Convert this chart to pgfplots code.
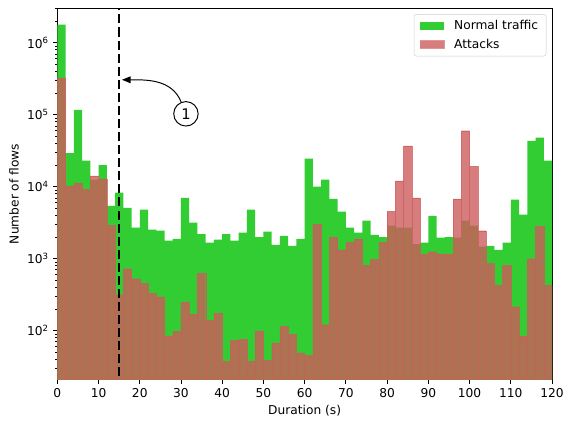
\documentclass[border=0pt]{standalone}
\usepackage{fontspec}
\setmainfont{DejaVu Sans}
\usepackage{pgfplots}
\pgfplotsset{compat=1.18}
\usetikzlibrary{arrows.meta}
\definecolor{normalc}{HTML}{32CD32}
\definecolor{attackc}{HTML}{CD5C5C}

\begin{document}
\begin{tikzpicture}
\begin{axis}[
  scale only axis, width=404.8pt, height=303.6pt,
  ymode=log, xmin=0, xmax=120, ymin=21, ymax=3.0e6,
  enlargelimits=false,
  axis line style={line width=0.8pt},
  tick align=outside, xtick pos=left, ytick pos=left,
  major tick length=3.5pt, minor tick length=2pt,
  every tick/.style={black, line width=0.8pt},
  every minor tick/.style={black, line width=0.6pt},
  xtick={0,10,20,30,40,50,60,70,80,90,100,110,120},
  ytick={100,1000,10000,100000,1000000},
  yticklabels={10\textsuperscript{2},10\textsuperscript{3},10\textsuperscript{4},10\textsuperscript{5},10\textsuperscript{6}},
  minor ytick={30,40,50,60,70,80,90,200,300,400,500,600,700,800,900,2000,3000,4000,5000,6000,7000,8000,9000,20000,30000,40000,50000,60000,70000,80000,90000,200000,300000,400000,500000,600000,700000,800000,900000,2000000,3000000},
  xlabel={Duration (s)}, ylabel={Number of flows},
  tick label style={font=\fontsize{10}{12}\selectfont},
  label style={font=\fontsize{10}{12}\selectfont},
  /pgf/number format/assume math mode=true,
  legend style={at={(1,1)}, anchor=north east, xshift=-4.7pt, yshift=-4.7pt,
    draw=black!20, rounded corners=2pt, fill=white, fill opacity=0.8, text opacity=1,
    font=\fontsize{10}{12}\selectfont, inner xsep=4.5pt, inner ysep=3pt, row sep=2pt,
    /tikz/every odd column/.append style={column sep=6pt}},
  legend cell align=left,
]
\addplot[ybar interval, fill=normalc, draw=none,
  legend image code/.code={\fill[sharp corners, fill opacity=1, normalc] (0pt,-3.2pt) rectangle (20pt,3.2pt);}] coordinates {
(0,1780000) (2,29400) (4,117000) (6,23000) (8,12500) (10,20000) (12,5400) (14,8300) (16,5100) (18,2700)
(20,4800) (22,2530) (24,2450) (26,1780) (28,1880) (30,7000) (32,3160) (34,2200) (36,1670) (38,1840)
(40,2200) (42,1780) (44,2300) (46,4800) (48,2000) (50,2370) (52,1560) (54,2080) (56,1510) (58,1880)
(60,24500) (62,10000) (64,12500) (66,6800) (68,4500) (70,2700) (72,2300) (74,3370) (76,2150) (78,2000)
(80,2870) (82,2700) (84,2700) (86,1600) (88,1670) (90,3950) (92,1960) (94,2000) (96,1960) (98,3370)
(100,2870) (102,1470) (104,1510) (106,1330) (108,1670) (110,6600) (112,4100) (114,43500) (116,48000) (118,23000)
(120,23000)};
\addlegendentry{Normal traffic}
\addplot[ybar interval, fill=attackc, fill opacity=0.8, draw=attackc, draw opacity=0.8, line width=0.3pt,
  legend image code/.code={\fill[sharp corners, fill opacity=1, attackc!80!white] (0pt,-3.2pt) rectangle (20pt,3.2pt);}] coordinates {
(0,324000) (2,10300) (4,11200) (6,9100) (8,14200) (10,12900) (12,2900) (14,316) (16,726) (18,527)
(20,450) (22,327) (24,294) (26,85) (28,98) (30,245) (32,167) (34,620) (36,138) (38,174)
(40,37.5) (42,73) (44,75) (46,37.5) (48,98) (50,38.7) (52,67) (54,114) (56,88) (58,49)
(60,45) (62,2970) (64,121) (66,2000) (68,1330) (70,1670) (72,1880) (74,800) (76,970) (78,1670)
(80,4500) (82,12100) (84,37000) (86,7000) (88,1140) (90,1250) (92,1170) (94,1140) (96,6800) (98,60000)
(100,19000) (102,2450) (104,853) (106,422) (108,800) (110,215) (112,85) (114,1000) (116,2800) (118,426)
(120,426)};
\addlegendentry{Attacks}
\addplot[black, line width=1.6pt, dash pattern=on 7.4pt off 3.3pt, forget plot] coordinates {(15,10) (15,10000000)};
\node[circle, draw, line width=0.8pt, minimum size=20pt, inner sep=0pt, fill=white,
  font=\fontsize{12}{14}\selectfont] (c) at (axis cs:31.2,103000) {1};
\draw[-{Triangle[length=7pt,width=5.5pt]}, line width=0.8pt] (c) to[out=112,in=0] (axis cs:15.7,306000);
\end{axis}
\pgfresetboundingbox
\path (current axis.south west) ++(-46.9pt,-34.0pt) rectangle ++(461.5pt,344.5pt);
\end{tikzpicture}
\end{document}
